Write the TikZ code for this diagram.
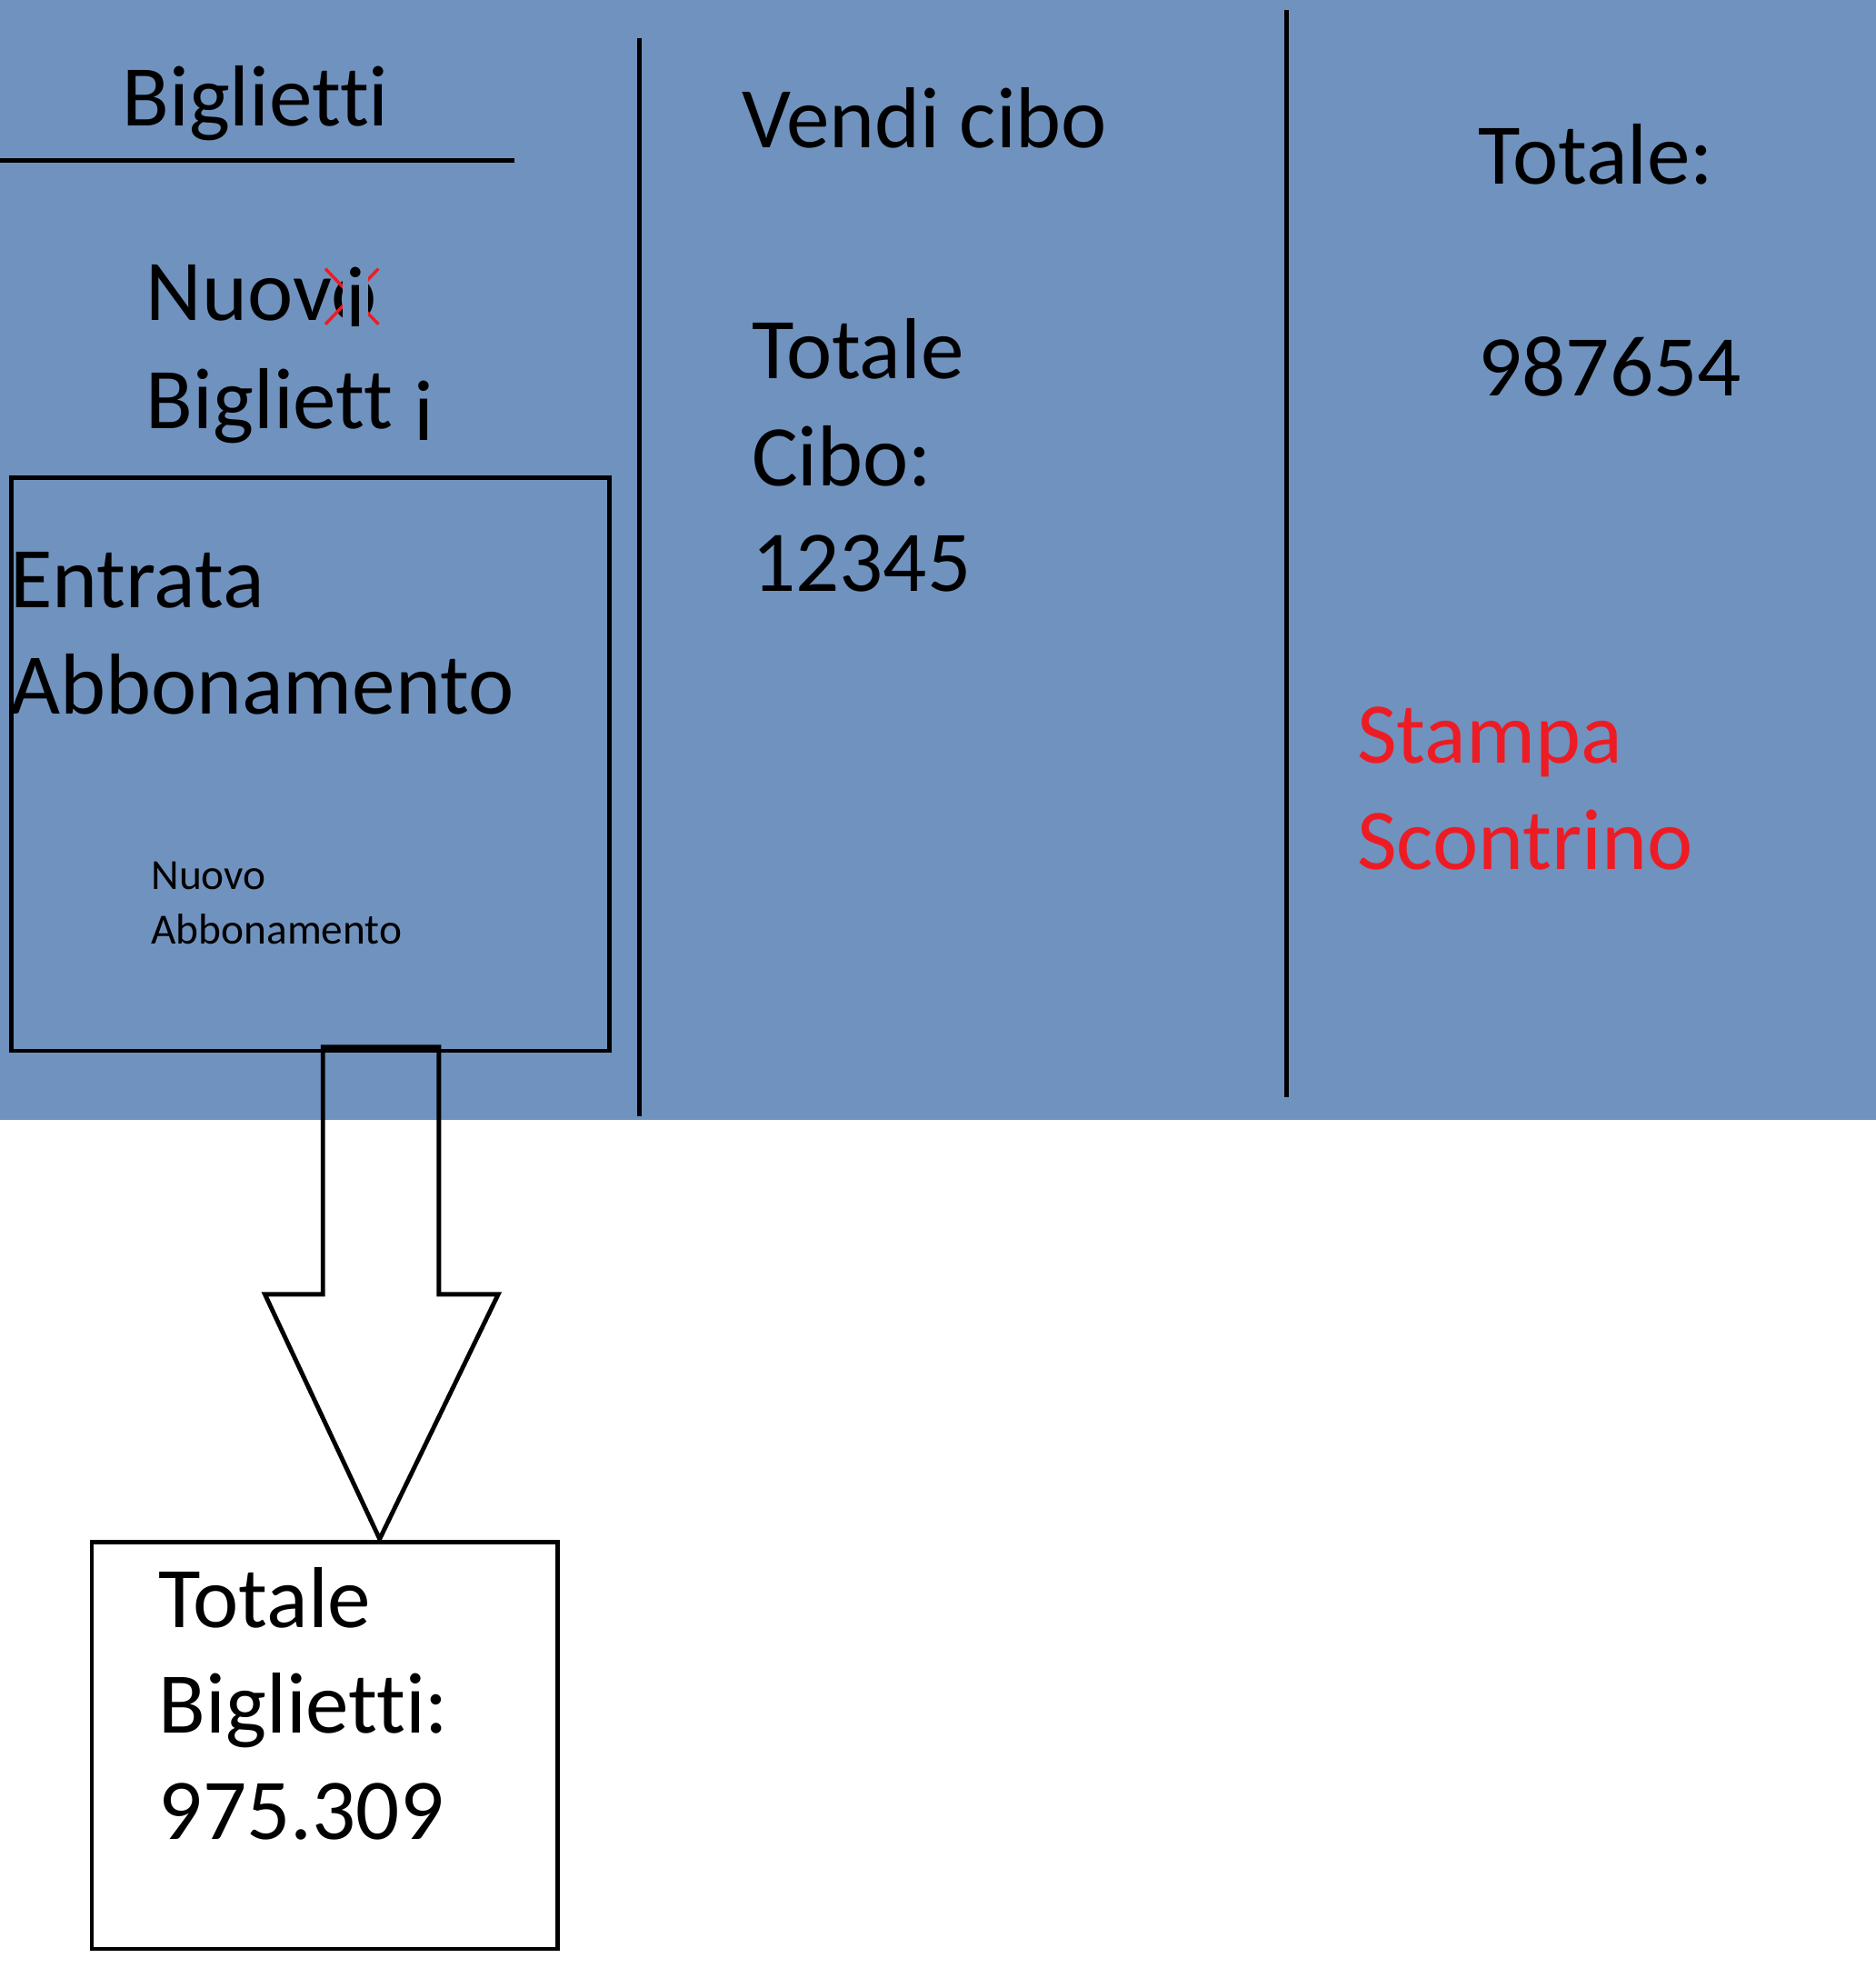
\documentclass[tikz,border=0pt]{standalone}
\usepackage{fontspec}
\setmainfont[Ligatures=NoCommon]{Carlito}
\usetikzlibrary{positioning}
\definecolor{panelblue}{RGB}{112,146,190}
\definecolor{stampred}{RGB}{237,28,36}
\tikzstyle{bigtext} = [font=\fontsize{19.5}{23.9}\selectfont,inner sep=0pt,outer sep=0pt,anchor=base west]
\tikzstyle{smalltext} = [font=\fontsize{9.7}{12.2}\selectfont,inner sep=0pt,outer sep=0pt,anchor=base west]
\tikzstyle{frame} = [draw,line width=1pt,inner sep=0pt,anchor=north west]

\begin{document}
\begin{tikzpicture}[x=0.01cm,y=-0.01cm,line width=1pt]
		\useasboundingbox (0,0) rectangle (1487,1568);
		\fill[panelblue] (0,0) rectangle (1487,888);

		% colonna biglietti
		\node[bigtext] (bigl) at (97,100) {Biglietti};
		\coordinate (ul1) at (0,127); \coordinate (ul2) at (408,127);
		\draw (ul1) -- (ul2);

		\node[bigtext] (nuovo) at (116,254) {Nuovo};
		\draw[stampred,line width=0.7pt] (258,213) -- (300,257) (300,213) -- (258,257);
		\node[bigtext,anchor=base,fill=panelblue,inner xsep=0.6pt,inner ysep=1pt] (ii) at (282,259) {i};
		\node[bigtext] (bigliett) at (116,340) {Bigliett};
		\node[bigtext] (ib) at (328,349) {i};

		\node[frame,minimum width=4.74cm,minimum height=4.54cm] (abbo) at (7,377) {};
		\node[bigtext] (entr) at (8,482) {Entrata};
		\node[bigtext] (abb) at (8,566) {Abbonamento};
		\node[smalltext] (nabb1) at (120,705) {Nuovo};
		\node[smalltext] (nabb2) at (120,748) {Abbonamento};

		% freccia
		\draw (256,830) -- (256,1026) -- (210,1026) -- (301,1220) -- (395,1026) -- (348,1026) -- (348,830) -- cycle;

		\node[frame,fill=white,minimum width=3.69cm,minimum height=3.22cm] (totb) at (71,1221) {};
		\node[bigtext] (tb1) at (126,1290) {Totale};
		\node[bigtext] (tb2) at (126,1374) {Biglietti:};
		\node[bigtext] (tb3) at (126,1458) {975.309};

		% divisori
		\coordinate (d1a) at (507,30); \coordinate (d1b) at (507,885);
		\coordinate (d2a) at (1020,8); \coordinate (d2b) at (1020,870);
		\draw (d1a) -- (d1b); \draw (d2a) -- (d2b);

		% colonna cibo
		\node[bigtext] (vendi) at (588,117) {Vendi cibo};
		\node[bigtext] (tc1) at (596,300) {Totale};
		\node[bigtext] (tc2) at (596,385) {Cibo:};
		\node[bigtext] (tc3) at (596,469) {12345};

		% colonna totale
		\node[bigtext] (tot) at (1172,146) {Totale:};
		\node[bigtext] (totv) at (1172,314) {987654};
		\node[bigtext,text=stampred] (st1) at (1076,605) {Stampa};
		\node[bigtext,text=stampred] (st2) at (1076,689) {Scontrino};
	\end{tikzpicture}
\end{document}
